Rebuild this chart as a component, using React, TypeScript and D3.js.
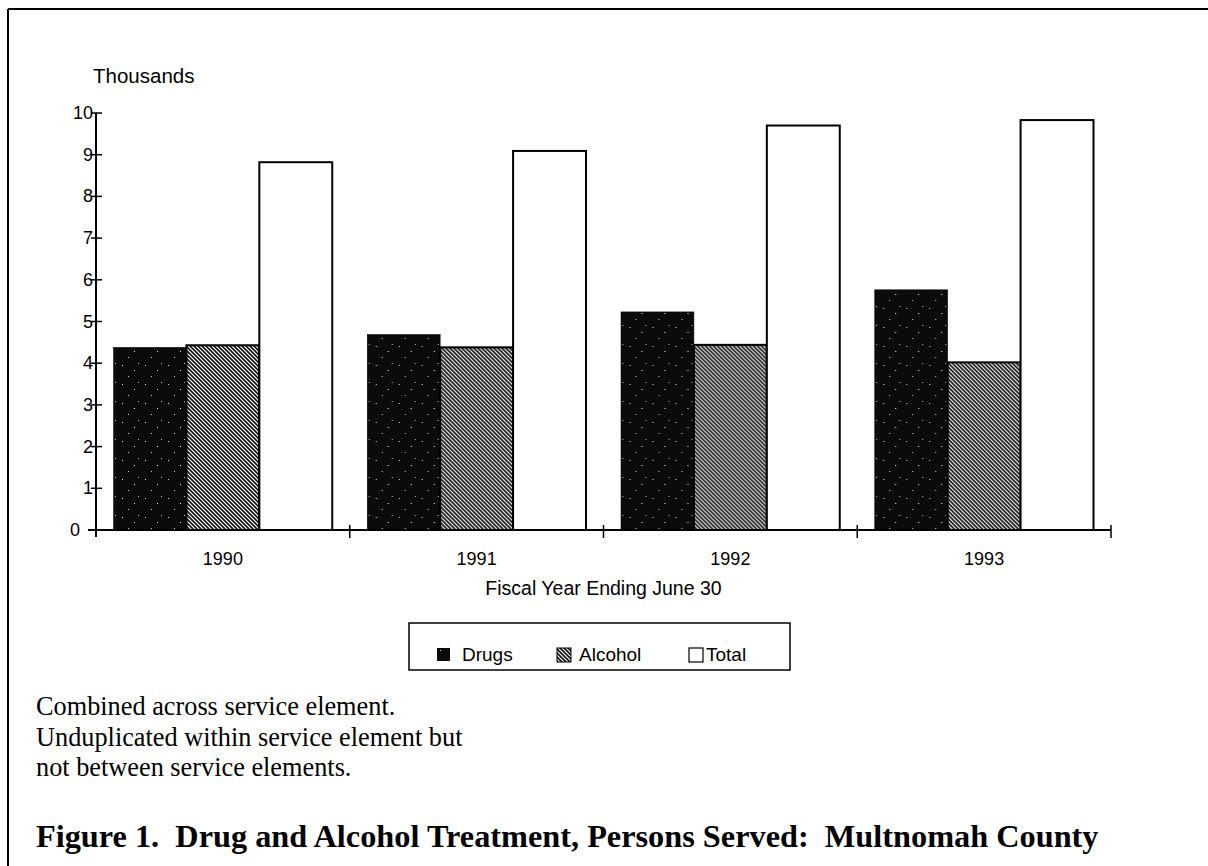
import React from "react";
import * as d3 from "d3";

const years = ["1990", "1991", "1992", "1993"];
const seriesNames = ["Drugs", "Alcohol", "Total"];
const drugs = [4.38, 4.69, 5.23, 5.76];
const alcohol = [4.43, 4.38, 4.44, 4.02];
const total = [8.82, 9.09, 9.7, 9.83];
const yTicks = [0, 1, 2, 3, 4, 5, 6, 7, 8, 9, 10];
const footnotes = [
  "Combined across service element.",
  "Unduplicated within service element but",
  "not between service elements.",
];
const title = "Figure 1.  Drug and Alcohol Treatment, Persons Served:  Multnomah County";

const W = 1208;
const H = 866;
const left = 96;
const right = 1111;
const top = 113;
const bottom = 530;

const sans = "'Liberation Sans', Arial, Helvetica, sans-serif";
const serif = "'Liberation Serif', 'Times New Roman', Times, serif";

export default function App() {
  const x0 = d3.scaleBand<string>().domain(years).range([left, right]).paddingInner(0).paddingOuter(0);
  const x1 = d3
    .scaleBand<string>()
    .domain(seriesNames)
    .range([0, x0.bandwidth()])
    .paddingInner(0)
    .paddingOuter(0.24);
  const y = d3.scaleLinear().domain([0, 10]).range([bottom, top]);
  const values: Record<string, number[]> = { Drugs: drugs, Alcohol: alcohol, Total: total };
  const fills: Record<string, string> = { Drugs: "url(#speckle)", Alcohol: "url(#hatch)", Total: "#fff" };

  const boundaries = years.map((yr) => (x0(yr) as number) + x0.bandwidth());
  const fmt = d3.format("d");

  return (
    <svg
      width={W}
      height={H}
      viewBox={`0 0 ${W} ${H}`}
      style={{ position: "absolute", left: 0, top: 0, background: "#fff" }}
    >
      <defs>
        <pattern id="hatch" patternUnits="userSpaceOnUse" width="4" height="4">
          <rect width="4" height="4" fill="#fff" />
          <path d="M-1,-1 L5,5 M-1,3 L1,5 M3,-1 L5,1" stroke="#111" strokeWidth="1.6" />
        </pattern>
        <pattern id="speckle" patternUnits="userSpaceOnUse" width="23" height="19">
          <rect width="23" height="19" fill="#0b0b0b" />
          <rect x="3" y="4" width="1" height="1" fill="#ddd" />
          <rect x="15" y="9" width="1" height="1" fill="#eee" />
          <rect x="9" y="15" width="1" height="1" fill="#ccc" />
          <rect x="19" y="2" width="1" height="1" fill="#bbb" />
        </pattern>
      </defs>

      {/* page frame */}
      <line x1={8} y1={9} x2={W} y2={9} stroke="#000" strokeWidth={2} />
      <line x1={8} y1={9} x2={8} y2={H} stroke="#000" strokeWidth={2} />

      {/* Thousands label */}
      <text x={93} y={83} fontFamily={sans} fontSize={20.5} fill="#000">
        Thousands
      </text>

      {/* bars */}
      {years.map((yr, i) => (
        <g key={yr} transform={`translate(${x0(yr)},0)`}>
          {seriesNames.map((s) => {
            const v = values[s][i];
            return (
              <rect
                key={s}
                x={x1(s) as number}
                y={y(v)}
                width={x1.bandwidth()}
                height={bottom - y(v)}
                fill={fills[s]}
                stroke="#000"
                strokeWidth={s === "Drugs" ? 0.5 : 2}
              />
            );
          })}
        </g>
      ))}

      {/* y axis */}
      <line x1={left} y1={top} x2={left} y2={bottom + 7} stroke="#000" strokeWidth={2} />
      {yTicks.map((t) => (
        <g key={t}>
          <line x1={left - 5} x2={left + 6} y1={y(t)} y2={y(t)} stroke="#000" strokeWidth={1.5} />
          <text
            x={t === 0 ? left - 16 : left - 3}
            y={y(t) + 6}
            textAnchor="end"
            fontFamily={sans}
            fontSize={18}
            fill="#000"
          >
            {fmt(t)}
          </text>
        </g>
      ))}

      {/* x axis */}
      <line x1={left - 8} y1={bottom} x2={right} y2={bottom} stroke="#000" strokeWidth={2} />
      {boundaries.map((bx, i) => (
        <line key={i} x1={bx} x2={bx} y1={bottom - 5} y2={bottom + 8} stroke="#000" strokeWidth={1.5} />
      ))}
      {years.map((yr) => (
        <text
          key={yr}
          x={(x0(yr) as number) + x0.bandwidth() / 2}
          y={565}
          textAnchor="middle"
          fontFamily={sans}
          fontSize={18}
          fill="#000"
        >
          {yr}
        </text>
      ))}
      <text x={(left + right) / 2} y={595} textAnchor="middle" fontFamily={sans} fontSize={19.5} fill="#000">
        Fiscal Year Ending June 30
      </text>

      {/* legend */}
      <rect x={409} y={623} width={381} height={47} fill="#fff" stroke="#000" strokeWidth={1.5} />
      <rect x={437} y={648} width={13} height={13} fill="url(#speckle)" />
      <text x={462} y={661} fontFamily={sans} fontSize={19} fill="#000">
        {seriesNames[0]}
      </text>
      <rect x={557} y={648} width={14} height={14} fill="url(#hatch)" stroke="#000" strokeWidth={1} />
      <text x={579} y={661} fontFamily={sans} fontSize={19} fill="#000">
        {seriesNames[1]}
      </text>
      <rect x={689} y={648} width={14} height={14} fill="#fff" stroke="#000" strokeWidth={1.2} />
      <text x={706} y={661} fontFamily={sans} fontSize={19} fill="#000">
        {seriesNames[2]}
      </text>

      {/* footnotes */}
      {footnotes.map((f, i) => (
        <text key={i} x={36} y={715 + i * 30.5} fontFamily={serif} fontSize={26.3} fill="#000">
          {f}
        </text>
      ))}

      {/* title */}
      <text
        x={36}
        y={847}
        fontFamily={serif}
        fontSize={32.3}
        fontWeight="bold"
        fill="#000"
        style={{ whiteSpace: "pre" }}
        xmlSpace="preserve"
      >
        {title}
      </text>
    </svg>
  );
}
